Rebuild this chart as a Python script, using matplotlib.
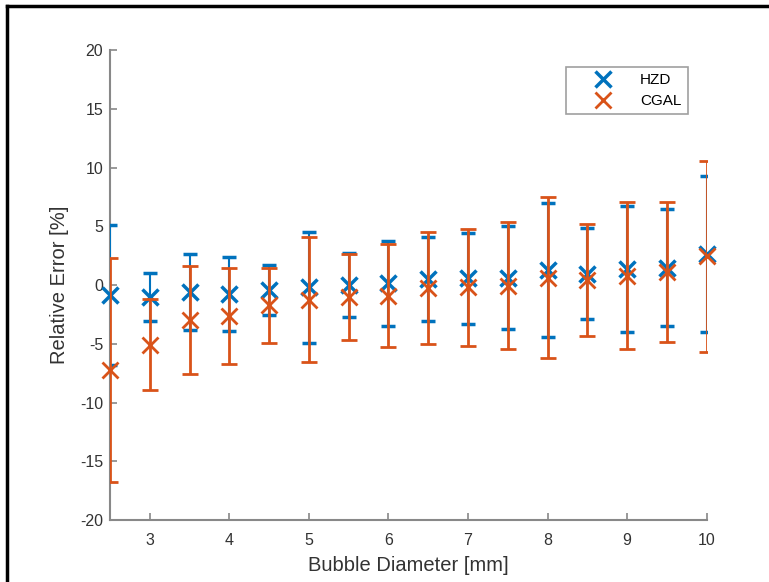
import numpy as np
import matplotlib.pyplot as plt
from matplotlib.lines import Line2D

plt.rcParams['font.family'] = ['Liberation Sans', 'DejaVu Sans']
plt.rcParams['axes.unicode_minus'] = False

diameter = [2.5, 3, 3.5, 4, 4.5, 5, 5.5, 6, 6.5, 7, 7.5, 8, 8.5, 9, 9.5, 10]

hzd_mean = [-0.85, -1.05, -0.61, -0.75, -0.43, -0.2, 0.0, 0.15, 0.5, 0.57, 0.64, 1.28, 0.98, 1.37, 1.49, 2.62]
hzd_err = [5.95, 2.05, 3.22, 3.16, 2.13, 4.71, 2.75, 3.61, 3.6, 3.88, 4.38, 5.67, 3.9, 5.35, 4.98, 6.65]

cgal_mean = [-7.23, -5.07, -2.98, -2.64, -1.74, -1.24, -1.05, -0.92, -0.25, -0.2, -0.05, 0.64, 0.44, 0.8, 1.1, 2.45]
cgal_err = [9.5, 3.87, 4.62, 4.06, 3.17, 5.3, 3.66, 4.38, 4.8, 4.97, 5.4, 6.82, 4.75, 6.28, 5.95, 8.12]

blue = '#0072BD'
orange = '#D95319'

fig = plt.figure(figsize=(7.69, 5.82), dpi=100)
ax = fig.add_axes([0.143, 0.1065, 0.776, 0.8075])

eb1 = ax.errorbar(diameter, hzd_mean, yerr=hzd_err, fmt='x', color=blue, ms=11.5, mew=2.5,
                  elinewidth=1.5, capsize=5, capthick=3, zorder=3)
eb2 = ax.errorbar(diameter, cgal_mean, yerr=cgal_err, fmt='x', color=orange, ms=12, mew=2,
                  elinewidth=2, capsize=6, capthick=2, zorder=4)
# markers at the axis limits are not clipped in the original
eb1[0].set_clip_on(False)
eb2[0].set_clip_on(False)

ax.set_xlim(2.5, 10)
ax.set_ylim(-20, 20)
ax.set_xticks(range(3, 11))
ax.set_yticks(range(-20, 21, 5))
ax.spines['top'].set_visible(False)
ax.spines['right'].set_visible(False)
for s in ['left', 'bottom']:
    ax.spines[s].set_color('#888888')
    ax.spines[s].set_linewidth(1.5)
ax.tick_params(direction='in', length=5, width=1.2, color='#888888',
               labelcolor='#333333', labelsize=11.5)
ax.tick_params(axis='x', pad=9)
ax.tick_params(axis='y', pad=5)
ax.set_xlabel('Bubble Diameter [mm]', fontsize=14.5, color='#333333', labelpad=6)
ax.set_ylabel('Relative Error [%]', fontsize=14.5, color='#333333', labelpad=8)

handles = [Line2D([], [], ls='none', marker='x', color=blue, ms=11.5, mew=2.5),
           Line2D([], [], ls='none', marker='x', color=orange, ms=12, mew=2)]
leg = ax.legend(handles, ['HZD', 'CGAL'], loc='upper right', bbox_to_anchor=(0.968, 0.964),
                borderaxespad=0, fancybox=False, fontsize=11, handletextpad=0.35,
                borderpad=0.4, labelspacing=0.45, handlelength=4.1)
leg.get_frame().set_edgecolor('#888888')
leg.get_frame().set_linewidth(1.2)

# black frame of the screenshot
fig.add_artist(Line2D([0.0095, 0.0095], [0, 0.989], color='black', lw=2.5, transform=fig.transFigure))
fig.add_artist(Line2D([0.0095, 1], [0.989, 0.989], color='black', lw=2.5, transform=fig.transFigure))

fig.savefig('out.png', dpi=100)
